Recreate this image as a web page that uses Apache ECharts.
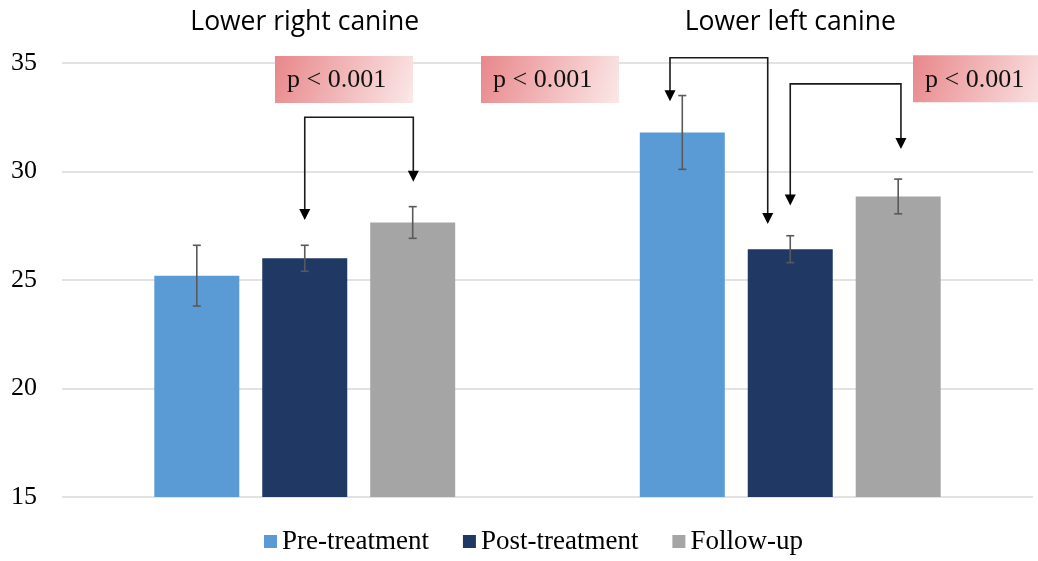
<!DOCTYPE html>
<html>
<head>
<meta charset="utf-8">
<script src="https://cdn.jsdelivr.net/npm/echarts@6/dist/echarts.min.js"></script>
<style>
  html, body { margin: 0; padding: 0; background: #fff; }
  #chart { width: 1038px; height: 561px; }
</style>
</head>
<body>
<div id="chart"></div>
<script>
// Canine measurements per group (mean and error-bar half length)
const categories = ['Lower right canine', 'Lower left canine'];
const seriesNames = ['Pre-treatment', 'Post-treatment', 'Follow-up'];
const preMean = [25.2, 31.8];
const preErr = [1.4, 1.7];
const postMean = [26.0, 26.42];
const postErr = [0.6, 0.62];
const followMean = [27.65, 28.85];
const followErr = [0.73, 0.8];
const yTicks = [15, 20, 25, 30, 35];

// Comparison brackets: [xFrom, xTo, yBar, yTipFrom, yTipTo]
// x is the category index on a continuous scale, y in axis units
const brackets = [
  [0.0, 0.2236, 32.5, 27.77, 29.53],
  [0.7523, 0.9536, 35.24, 33.24, 27.58],
  [1.0, 1.228, 34.04, 28.43, 31.04]
];
// Significance labels and the top-left corner of each label box
const pLabels = ['p < 0.001', 'p < 0.001', 'p < 0.001'];
const pBoxAnchors = [[-0.0613, 35.32], [0.363, 35.32], [1.2528, 35.36]];

const colors = ['#5B9BD5', '#203864', '#A5A5A5'];
const BAR_WIDTH = 85;
const BAR_GAP = 0.27;
const SERIF = 'Liberation Serif';

const chart = echarts.init(document.getElementById('chart'), null, { renderer: 'canvas' });

const means = [preMean, postMean, followMean];
const errs = [preErr, postErr, followErr];

function errorBarSeries(idx) {
  const data = categories.map((c, i) => [i, means[idx][i] - errs[idx][i], means[idx][i] + errs[idx][i]]);
  return {
    type: 'custom',
    name: seriesNames[idx] + ' error',
    xAxisIndex: 0,
    yAxisIndex: 0,
    z: 5,
    silent: true,
    clip: false,
    encode: { x: 0, y: [1, 2] },
    data: data,
    renderItem: function (params, api) {
      const offset = (idx - 1) * BAR_WIDTH * (1 + BAR_GAP);
      const lo = api.coord([api.value(0), api.value(1)]);
      const hi = api.coord([api.value(0), api.value(2)]);
      const x = lo[0] + offset;
      const cap = 4;
      const st = { stroke: '#595959', lineWidth: 1.6 };
      return {
        type: 'group',
        children: [
          { type: 'line', shape: { x1: x, y1: lo[1], x2: x, y2: hi[1] }, style: st },
          { type: 'line', shape: { x1: x - cap, y1: lo[1], x2: x + cap, y2: lo[1] }, style: st },
          { type: 'line', shape: { x1: x - cap, y1: hi[1], x2: x + cap, y2: hi[1] }, style: st }
        ]
      };
    }
  };
}

const barSeries = seriesNames.map((name, idx) => ({
  type: 'bar',
  name: name,
  xAxisIndex: 0,
  yAxisIndex: 0,
  barWidth: BAR_WIDTH,
  barGap: (BAR_GAP * 100) + '%',
  itemStyle: { color: colors[idx] },
  data: means[idx],
  z: 2
}));

const bracketSeries = {
  type: 'custom',
  name: 'brackets',
  xAxisIndex: 1,
  yAxisIndex: 0,
  z: 6,
  silent: true,
  clip: false,
  encode: { x: [0, 1], y: [2, 3, 4] },
  data: brackets,
  renderItem: function (params, api) {
    const a = api.coord([api.value(0), api.value(2)]);
    const b = api.coord([api.value(1), api.value(2)]);
    const ta = api.coord([api.value(0), api.value(3)]);
    const tb = api.coord([api.value(1), api.value(4)]);
    const head = 11, half = 5.5;
    const st = { stroke: '#1a1a1a', lineWidth: 1.6, fill: null };
    return {
      type: 'group',
      children: [
        {
          type: 'polyline',
          shape: { points: [[ta[0], ta[1] - head + 1], a, b, [tb[0], tb[1] - head + 1]] },
          style: st
        },
        {
          type: 'polygon',
          shape: { points: [[ta[0], ta[1]], [ta[0] - half, ta[1] - head], [ta[0] + half, ta[1] - head]] },
          style: { fill: '#000' }
        },
        {
          type: 'polygon',
          shape: { points: [[tb[0], tb[1]], [tb[0] - half, tb[1] - head], [tb[0] + half, tb[1] - head]] },
          style: { fill: '#000' }
        }
      ]
    };
  }
};

const pLabelSeries = {
  type: 'custom',
  name: 'p-values',
  xAxisIndex: 1,
  yAxisIndex: 0,
  z: 7,
  silent: true,
  clip: false,
  encode: { x: 0, y: 1 },
  data: pBoxAnchors.map((p, i) => [p[0], p[1], i]),
  renderItem: function (params, api) {
    const p = api.coord([api.value(0), api.value(1)]);
    const w = 138, h = 47;
    return {
      type: 'group',
      children: [
        {
          type: 'rect',
          shape: { x: p[0], y: p[1], width: w, height: h },
          style: {
            fill: new echarts.graphic.LinearGradient(0, 0, 1, 1, [
              { offset: 0, color: '#E8878A' },
              { offset: 1, color: '#FBE8E8' }
            ])
          }
        },
        {
          type: 'text',
          x: p[0] + 12,
          y: p[1] + h / 2 + 1,
          style: {
            text: pLabels[api.value(2)],
            fill: '#111',
            font: '26px "Liberation Serif"',
            align: 'left',
            verticalAlign: 'middle'
          }
        }
      ]
    };
  }
};

const option = {
  animation: false,
  backgroundColor: '#fff',
  color: colors,
  textStyle: { fontFamily: SERIF },
  grid: { left: 62, right: 5, top: 63, bottom: 64, containLabel: false },
  legend: {
    data: seriesNames,
    bottom: 1,
    left: 259,
    itemWidth: 13,
    itemHeight: 13,
    itemGap: 34,
    icon: 'rect',
    textStyle: { fontFamily: SERIF, fontSize: 27, color: '#000' }
  },
  xAxis: [
    {
      type: 'category',
      data: categories,
      position: 'top',
      axisLine: { show: false },
      axisTick: { show: false },
      axisLabel: { fontFamily: 'Open Sans', fontSize: 26.5, color: '#000', margin: 27 }
    },
    {
      type: 'value',
      min: -0.5,
      max: 1.5,
      show: false
    }
  ],
  yAxis: {
    type: 'value',
    min: yTicks[0],
    max: yTicks[yTicks.length - 1],
    interval: yTicks[1] - yTicks[0],
    axisLine: { show: false },
    axisTick: { show: false },
    axisLabel: { fontFamily: SERIF, fontSize: 26, color: '#000', margin: 25 },
    splitLine: { lineStyle: { color: '#D9D9D9', width: 1.5 } }
  },
  series: [
    ...barSeries,
    errorBarSeries(0),
    errorBarSeries(1),
    errorBarSeries(2),
    bracketSeries,
    pLabelSeries
  ]
};

chart.setOption(option);
</script>
</body>
</html>
